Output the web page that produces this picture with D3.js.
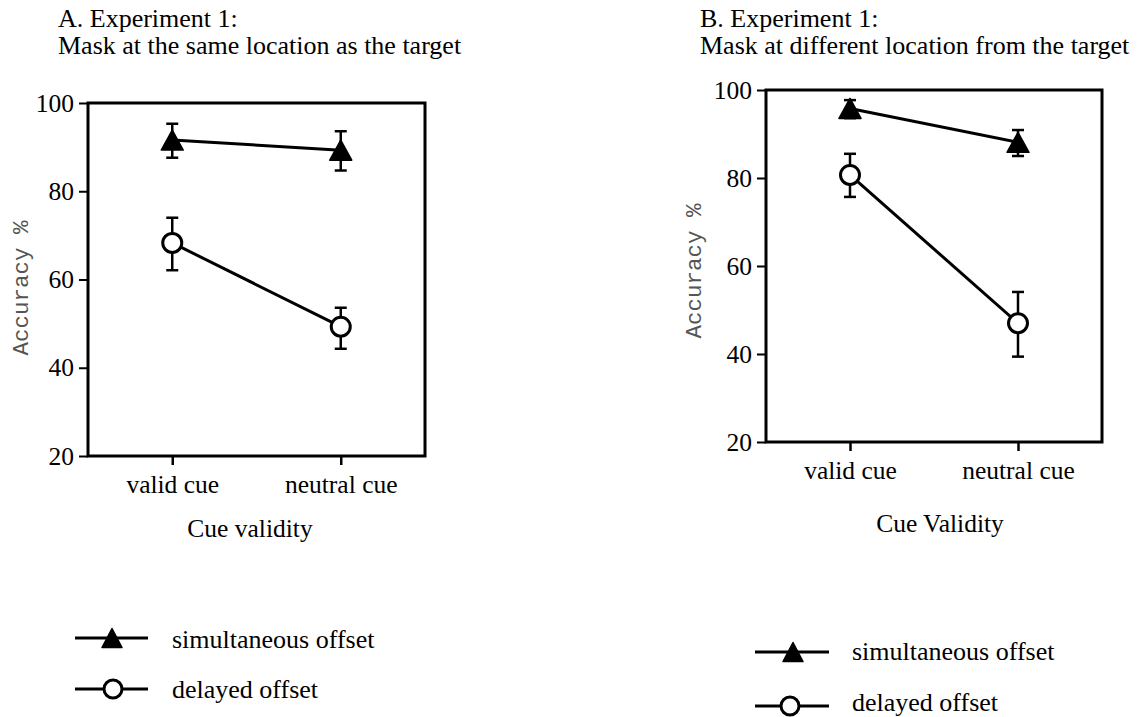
<!DOCTYPE html>
<html lang="en">

<head>
  <meta charset="UTF-8">
  <title>Experiment 1 accuracy</title>
  <script src="https://cdn.jsdelivr.net/npm/d3@7.6.1/dist/d3.min.js"></script>
  <style>
    body { margin: 0; background: #fff; }
    svg { display: block; }
    text { font-family: "Liberation Serif", "Times New Roman", serif; fill: #000; }
  </style>
</head>

<body>
  <div id="box"></div>
  <script>
    const width = 1142
    const height = 717

    // data
    const categories = ['valid cue', 'neutral cue']
    const yTicks = [20, 40, 60, 80, 100]
    const seriesNames = ['simultaneous offset', 'delayed offset']

    // panel A: mask at the same location
    const aSimMean = [91.6, 89.3]
    const aSimHi = [95.3, 93.6]
    const aSimLo = [87.6, 84.7]
    const aDelMean = [68.3, 49.3]
    const aDelHi = [74.0, 53.6]
    const aDelLo = [62.1, 44.3]

    // panel B: mask at different location
    const bSimMean = [95.8, 88.1]
    const bSimHi = [97.7, 90.9]
    const bSimLo = [93.6, 85.0]
    const bDelMean = [80.7, 47.0]
    const bDelHi = [85.5, 54.1]
    const bDelLo = [75.7, 39.4]

    // layout for each panel
    const panels = [
      {
        title: ['A. Experiment 1:', 'Mask at the same location as the target'],
        titleX: 58, box: { left: 88, top: 103, right: 425, bottom: 456 },
        xTitle: 'Cue validity', xTitleX: 250, xTitleY: 537,
        yLabelX: 28, yLabelY: 288,
        sim: [aSimMean, aSimLo, aSimHi], del: [aDelMean, aDelLo, aDelHi],
        legend: { x0: 75, x1: 148, sym: 112, circ: 113, textX: 172, rows: [638, 689], base: [648, 698] }
      },
      {
        title: ['B. Experiment 1:', 'Mask at different location from the target'],
        titleX: 700, box: { left: 766, top: 90, right: 1102, bottom: 442 },
        xTitle: 'Cue Validity', xTitleX: 940, xTitleY: 532,
        yLabelX: 701, yLabelY: 271,
        sim: [bSimMean, bSimLo, bSimHi], del: [bDelMean, bDelLo, bDelHi],
        legend: { x0: 755, x1: 829, sym: 793, circ: 790, textX: 852, rows: [652, 706], base: [660, 711] }
      }
    ]

    const svg = d3.select('#box').append('svg')
      .attr('width', width)
      .attr('height', height)

    svg.append('rect').attr('width', width).attr('height', height).attr('fill', '#fff')

    // triangle centred on its bounding box
    function triangle(w, h) {
      return `M0,${-h / 2}L${w / 2},${h / 2}L${-w / 2},${h / 2}Z`
    }

    panels.forEach(p => {
      const g = svg.append('g')
      const b = p.box

      // titles
      p.title.forEach((t, i) => {
        g.append('text').attr('x', p.titleX).attr('y', 27 + i * 26.5)
          .attr('font-size', 26).text(t)
      })

      const x = d3.scalePoint().domain(categories).range([b.left, b.right]).padding(0.5)
      const y = d3.scaleLinear().domain([20, 100]).range([b.bottom, b.top])

      // y axis
      const yAxis = d3.axisLeft(y).tickValues(yTicks).tickSize(9).tickPadding(5)
      const ya = g.append('g').attr('transform', `translate(${b.left},0)`).call(yAxis)
      ya.select('.domain').remove()
      ya.selectAll('line').attr('stroke', '#000').attr('stroke-width', 2)
      ya.selectAll('text').attr('font-size', 25.5)

      // x axis
      const xAxis = d3.axisBottom(x).tickSize(9).tickPadding(10)
      const xa = g.append('g').attr('transform', `translate(0,${b.bottom})`).call(xAxis)
      xa.select('.domain').remove()
      xa.selectAll('line').attr('stroke', '#000').attr('stroke-width', 2.5)
      xa.selectAll('text').attr('font-size', 25.5)

      // frame
      g.append('rect')
        .attr('x', b.left).attr('y', b.top)
        .attr('width', b.right - b.left).attr('height', b.bottom - b.top)
        .attr('fill', 'none').attr('stroke', '#000').attr('stroke-width', 3)

      // axis titles
      g.append('text').attr('x', p.xTitleX).attr('y', p.xTitleY)
        .attr('text-anchor', 'middle').attr('font-size', 25.5).text(p.xTitle)

      g.append('text')
        .attr('transform', `translate(${p.yLabelX},${p.yLabelY}) rotate(-90)`)
        .attr('text-anchor', 'middle')
        .style('font-family', '"Liberation Mono", "Courier New", monospace')
        .attr('font-size', 22.5)
        .style('fill', '#555')
        .text('Accuracy %')

      const line = d3.line().x((d, i) => x(categories[i])).y(d => y(d))

      // series: error bars, line, markers
      const series = [
        { vals: p.sim, kind: 'tri' },
        { vals: p.del, kind: 'circ' }
      ]
      series.forEach(s => {
        const [mean, lo, hi] = s.vals
        const eb = g.append('g').attr('stroke', '#000').attr('stroke-width', 2.5)
        categories.forEach((c, i) => {
          eb.append('line').attr('x1', x(c)).attr('x2', x(c)).attr('y1', y(lo[i])).attr('y2', y(hi[i]))
          ;[lo[i], hi[i]].forEach(v => {
            eb.append('line').attr('x1', x(c) - 6).attr('x2', x(c) + 6).attr('y1', y(v)).attr('y2', y(v))
          })
        })
        g.append('path').datum(mean).attr('d', line)
          .attr('fill', 'none').attr('stroke', '#000').attr('stroke-width', 3)
        categories.forEach((c, i) => {
          if (s.kind === 'tri') {
            g.append('path').attr('d', triangle(22, 20))
              .attr('transform', `translate(${x(c)},${y(mean[i])})`)
              .attr('fill', '#000').attr('stroke', '#000').attr('stroke-width', 1.5).attr('stroke-linejoin', 'round')
          } else {
            g.append('circle').attr('cx', x(c)).attr('cy', y(mean[i])).attr('r', 9.5)
              .attr('fill', '#fff').attr('stroke', '#000').attr('stroke-width', 3)
          }
        })
      })

      // legend
      const L = p.legend
      seriesNames.forEach((name, i) => {
        const ly = L.rows[i]
        g.append('line').attr('x1', L.x0).attr('x2', L.x1).attr('y1', ly).attr('y2', ly)
          .attr('stroke', '#000').attr('stroke-width', 3)
        if (i === 0) {
          g.append('path').attr('d', triangle(20, 19))
            .attr('transform', `translate(${L.sym},${ly})`)
            .attr('fill', '#000').attr('stroke', '#000').attr('stroke-width', 1.5).attr('stroke-linejoin', 'round')
        } else {
          g.append('circle').attr('cx', L.circ).attr('cy', ly).attr('r', 9)
            .attr('fill', '#fff').attr('stroke', '#000').attr('stroke-width', 3)
        }
        g.append('text').attr('x', L.textX).attr('y', L.base[i]).attr('font-size', 26).text(name)
      })
    })
  </script>
</body>

</html>
